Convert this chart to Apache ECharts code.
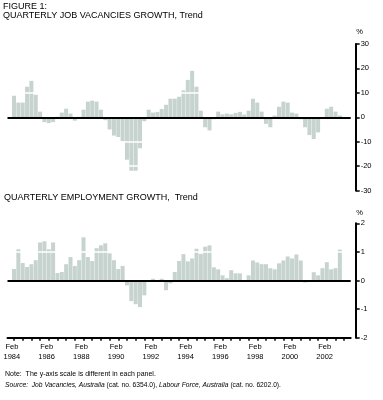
<!DOCTYPE html>
<html>
<head>
<meta charset="utf-8">
<script src="https://cdn.jsdelivr.net/npm/echarts@6/dist/echarts.min.js"></script>
<style>html,body{margin:0;padding:0;background:#fff}#c{width:383px;height:400px}</style>
</head>
<body>
<div id="c"></div>
<script>
// Quarter names and axis range (Nov 1983 .. May 2003)
const quarterNames = ['Feb', 'May', 'Aug', 'Nov'];
const firstYear = 1983, firstQuarterIndex = 3, categoryCount = 79;

// Quarterly job vacancies growth, trend (%), Feb 1984 .. Nov 2002
const vacancies = [
  8.8, 6.0, 6.0, 12.5, 14.9, 9.2, 2.3, -2.0, -2.4, -2.0,
  0.2, 1.9, 3.5, 1.5, -1.4, 0.2, 3.1, 6.4, 6.8, 6.4,
  3.1, -1.2, -5.0, -7.5, -8.1, -9.8, -17.4, -21.9, -21.9, -12.7,
  -1.6, 3.1, 1.9, 2.2, 3.4, 5.1, 7.6, 7.6, 8.4, 11.0,
  15.3, 19.0, 12.5, 2.7, -4.1, -5.4, -0.8, 2.3, 1.2, 1.5,
  1.2, 1.8, 2.2, 1.1, 2.7, 7.6, 6.0, 2.3, -2.7, -4.1,
  0.7, 4.3, 6.4, 6.0, 1.9, 1.5, -0.8, -4.1, -7.3, -8.9,
  -6.2, 0.0, 3.5, 4.3, 2.3, 0.7
];

// Quarterly employment growth, trend (%), Feb 1984 .. Nov 2002
const employment = [
  0.40, 1.09, 0.61, 0.47, 0.57, 0.71, 1.33, 1.37, 1.09, 1.33,
  0.26, 0.30, 0.57, 0.82, 0.51, 0.71, 1.51, 0.82, 0.68, 1.13,
  1.23, 1.30, 0.95, 0.71, 0.40, 0.51, -0.17, -0.72, -0.83, -0.93,
  -0.52, 0.00, 0.06, 0.00, 0.06, -0.34, -0.10, 0.30, 0.68, 0.92,
  0.67, 0.77, 1.11, 0.93, 1.18, 1.23, 0.46, 0.39, 0.18, 0.08,
  0.36, 0.25, 0.25, 0.00, 0.18, 0.70, 0.63, 0.57, 0.57, 0.43,
  0.39, 0.60, 0.70, 0.84, 0.77, 0.91, 0.70, -0.07, 0.00, 0.29,
  0.18, 0.43, 0.64, 0.39, 0.43, 1.08
];

const topTicks = [-30, -20, -10, 0, 10, 20, 30];
const bottomTicks = [-2, -1, 0, 1, 2];

const categories = [];
for (let k = 0; k < categoryCount; k++) {
  const idx = firstQuarterIndex + k;
  categories.push(quarterNames[idx % 4] + ' ' + (firstYear + Math.floor(idx / 4)));
}
function pad(arr) {
  const out = [null].concat(arr);
  while (out.length < categoryCount) out.push(null);
  return out;
}

const FONT = 'Liberation Sans, Arial, sans-serif';
const BAR = '#c6d3cf';
const catW = (350.7 - 7.5) / categoryCount;

function yAxisCfg(grid, ticks) {
  return {
    type: 'value', gridIndex: grid, position: 'right', offset: 5,
    min: ticks[0], max: ticks[ticks.length - 1], interval: ticks[1] - ticks[0],
    axisLine: {show: true, lineStyle: {color: '#000', width: 2}},
    axisTick: {show: true, length: 4, lineStyle: {color: '#000', width: 1.5}},
    axisLabel: {margin: 5, fontSize: 7.5, color: '#000', fontFamily: FONT},
    splitLine: {show: false}
  };
}
function markLines(whites) {
  const data = whites.map(v => ({yAxis: v, lineStyle: {color: '#fff', width: 1.5, type: 'solid'}}));
  data.push({yAxis: 0, lineStyle: {color: '#000', width: 2, type: 'solid'}});
  return {silent: true, symbol: 'none', label: {show: false}, animation: false, data: data};
}

const chart = echarts.init(document.getElementById('c'), null, {renderer: 'canvas'});
chart.setOption({
  animation: false,
  backgroundColor: '#fff',
  grid: [
    {left: 7.5, right: 32.3, top: 44, height: 146.5},
    {left: 7.5, right: 32.3, top: 223.3, height: 114.4}
  ],
  xAxis: [
    {type: 'category', gridIndex: 0, data: categories,
     axisLine: {show: false}, axisTick: {show: false}, axisLabel: {show: false}, splitLine: {show: false}},
    {type: 'category', gridIndex: 1, data: categories, position: 'bottom',
     axisLine: {show: true, onZero: false, lineStyle: {color: '#000', width: 2}},
     axisTick: {show: true, alignWithLabel: true, length: 3, interval: (i) => i % 2 === 1,
                lineStyle: {color: '#000', width: 1.5}},
     axisLabel: {interval: (i) => i % 8 === 1, margin: 4, fontSize: 7.5, lineHeight: 10,
                 color: '#000', fontFamily: FONT, padding: [0, catW, 0, 0],
                 formatter: (v) => v.replace(' ', '\n')},
     splitLine: {show: false}}
  ],
  yAxis: [yAxisCfg(0, topTicks), yAxisCfg(1, bottomTicks)],
  series: [
    {type: 'bar', xAxisIndex: 0, yAxisIndex: 0, data: pad(vacancies), barCategoryGap: '8%',
     itemStyle: {color: BAR}, markLine: markLines([10, 20, -10, -20])},
    {type: 'bar', xAxisIndex: 1, yAxisIndex: 1, data: pad(employment), barCategoryGap: '8%',
     itemStyle: {color: BAR}, markLine: markLines([1, -1])}
  ],
  graphic: [
    {type: 'text', left: 3, top: 2.5, style: {text: 'FIGURE 1:', font: '9px ' + FONT, fill: '#000'}},
    {type: 'text', left: 3, top: 11, style: {text: 'QUARTERLY JOB VACANCIES GROWTH, Trend', font: '9px ' + FONT, fill: '#000'}},
    {type: 'text', x: 359.5, y: 32, style: {text: '%', font: '7.5px ' + FONT, fill: '#000', align: 'center', verticalAlign: 'middle'}},
    {type: 'text', left: 4, top: 193.5, style: {text: 'QUARTERLY EMPLOYMENT GROWTH,  Trend', font: '9px ' + FONT, fill: '#000'}},
    {type: 'text', x: 359.5, y: 212.5, style: {text: '%', font: '7.5px ' + FONT, fill: '#000', align: 'center', verticalAlign: 'middle'}},
    {type: 'text', x: 5, y: 374.5, style: {text: 'Note:  The y-axis scale is different in each panel.', font: '7px ' + FONT, fill: '#000', verticalAlign: 'middle'}},
    {type: 'text', x: 5, y: 385.5, style: {
      text: '{i|Source:  Job Vacancies, Australia} (cat. no. 6354.0), {i|Labour Force, Australia} (cat. no. 6202.0).',
      font: '6.7px ' + FONT, fill: '#000', verticalAlign: 'middle',
      rich: {i: {fontStyle: 'italic', fontSize: 6.7, fontFamily: FONT}}}}
  ]
});
</script>
</body>
</html>
